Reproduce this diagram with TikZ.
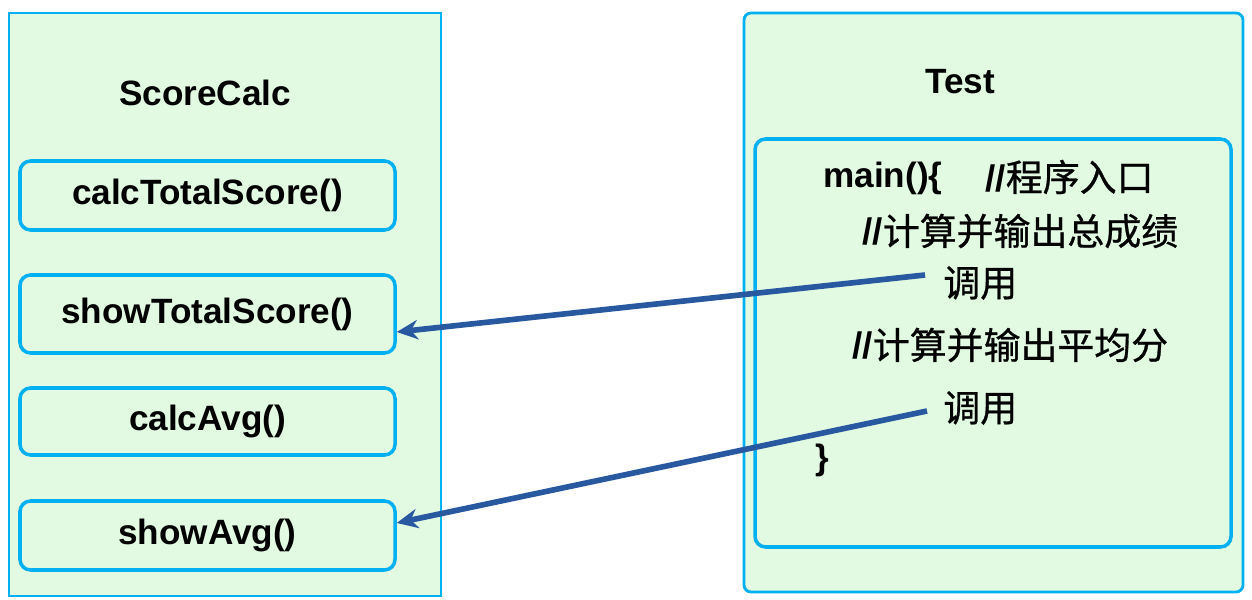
\documentclass[tikz,border=0pt]{standalone}
\usepackage{fontspec}
\setmainfont{Liberation Sans}
\newfontfamily\cjk[FakeBold=0.8]{Noto Sans CJK SC}
\usepackage{tikz}
\usetikzlibrary{arrows.meta, positioning, calc}
\definecolor{scborder}{RGB}{0,176,240}
\definecolor{scfill}{RGB}{226,249,226}
\definecolor{scarrow}{RGB}{40,88,160}
\tikzset{
  %% ---- boxes ----
  classbox/.style  = {rectangle, draw=scborder, line width=1.6pt,
                      fill=scfill, minimum width=#1, inner sep=0pt},
  classbox/.default = 8.64cm,
  methodbox/.style = {rectangle, rounded corners=6pt,
                      draw=scborder, line width=2pt,
                      fill=scfill, minimum width=7.5cm, align=center,
                      font=\fontsize{20}{24}\selectfont\bfseries},
  title/.style     = {font=\fontsize{20}{24}\selectfont\bfseries},
  codeline/.style  = {anchor=west, inner sep=0pt,
                      font=\fontsize{20}{24}\selectfont\bfseries},
  cjkline/.style   = {anchor=west, inner sep=0pt,
                      font=\fontsize{21}{25}\selectfont\cjk},
  %% ---- arrows ----
  callarrow/.style = {-{Stealth[length=12pt, width=11pt]},
                      line width=3.2pt, color=scarrow},
}
\begin{document}
\begin{tikzpicture}
  \useasboundingbox (0,0) rectangle (25.04,11.98);

  % ScoreCalc class
  \node[classbox=8.64cm, minimum height=11.66cm] (calc) at (4.5,5.89) {};
  \node[title] (calctitle) at (4.1,10.12) {ScoreCalc};

  \node[methodbox, minimum height=1.38cm] (calctotal) at (4.15,8.07) {calcTotalScore()};
  \node[methodbox, minimum height=1.56cm] (showtotal) at (4.15,5.70) {showTotalScore()};
  \node[methodbox, minimum height=1.34cm] (calcavg)   at (4.15,3.55) {calcAvg()};
  \node[methodbox, minimum height=1.38cm] (showavg)   at (4.15,1.27) {showAvg()};

  % Test class
  \node[classbox=9.98cm, minimum height=11.58cm, rounded corners=4pt] (test) at (19.87,5.93) {};
  \node[title] (testtitle) at (19.2,10.34) {Test};
  \node[methodbox, minimum width=9.52cm, minimum height=8.16cm] (mainbox) at (19.86,5.12) {};

  \node[codeline] (mainhead) at (16.46,8.42) {main()\{};
  \node[cjkline]  (cmt0) at (19.70,8.44) {{\rmfamily\bfseries//}程序入口};
  \node[cjkline]  (cmt1) at (17.24,7.36) {{\rmfamily\bfseries//}计算并输出总成绩};
  \node[cjkline]  (call1) at (18.86,6.32) {调用};
  \node[cjkline]  (cmt2) at (17.04,5.08) {{\rmfamily\bfseries//}计算并输出平均分};
  \node[cjkline]  (call2) at (18.86,3.82) {调用};
  \node[codeline] (mainend) at (16.30,2.78) {\}};

  \draw[callarrow] ([shift={(-0.36,0.16)}]call1.west) -- ([yshift=-0.36cm]showtotal.east);
  \draw[callarrow] ([shift={(-0.32,-0.06)}]call2.west) -- ([yshift=0.25cm]showavg.east);

\end{tikzpicture}
\end{document}
